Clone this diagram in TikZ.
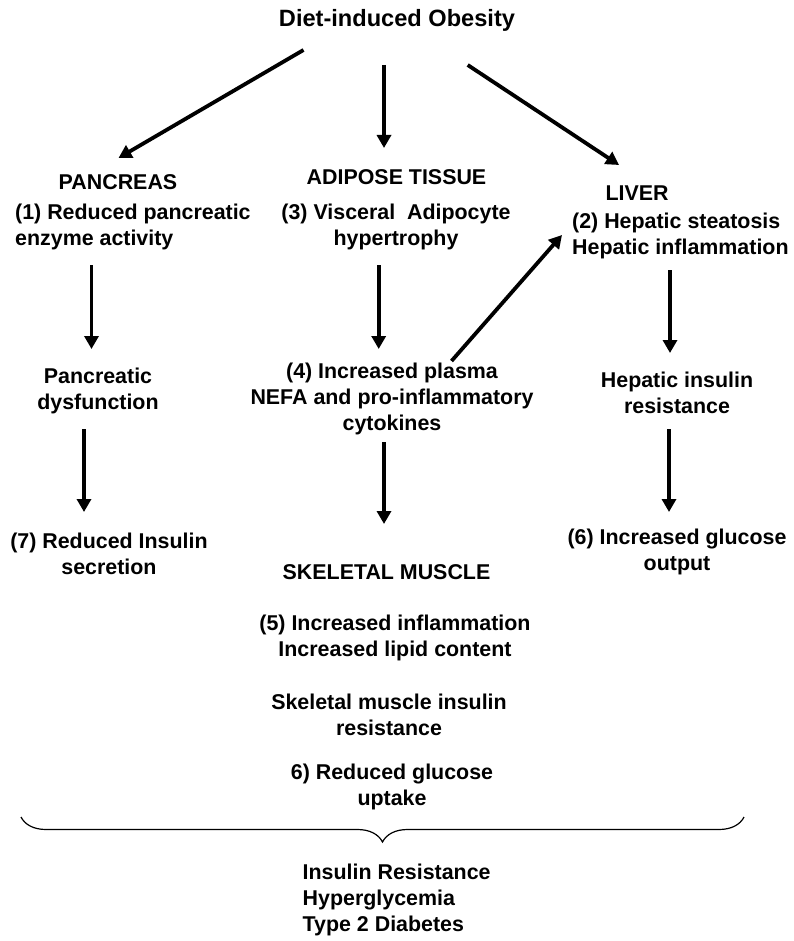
\documentclass[tikz,border=0pt]{standalone}
\usepackage{fontspec}
\setmainfont{Liberation Sans}
\usetikzlibrary{arrows.meta,decorations.pathreplacing}

\begin{document}
\begin{tikzpicture}[x=1pt,y=-1pt,
  lbl/.style={inner sep=0pt,align=center},
  lbll/.style={inner sep=0pt,align=left,anchor=west},
  arr/.style={-{Triangle[length=13pt,width=14pt]},line width=3.8pt}]
\fontsize{21.4}{26}\selectfont\bfseries
\useasboundingbox (0,0) rectangle (793,941);
% top
\node[lbl,font=\fontsize{23.6}{28}\selectfont\bfseries] (obesity) at (397,20) {Diet-induced Obesity};
% organs
\node[lbl] (pancreas) at (118,182) {PANCREAS};
\node[lbll] (pancenz) at (15,227) {(1) Reduced pancreatic\\enzyme activity};
\node[lbl] (adipose) at (396.5,177) {ADIPOSE TISSUE};
\node[lbl] (visceral) at (396,227) {(3) Visceral\ \ Adipocyte\\hypertrophy};
\node[lbl] (liver) at (637,193) {LIVER};
\node[lbll] (hepatic) at (572,235.5) {(2) Hepatic steatosis\\Hepatic inflammation};
% second row
\node[lbl] (pancdys) at (98,390.5) {Pancreatic\\dysfunction};
\node[lbl] (nefa) at (392,399) {(4) Increased plasma\\NEFA and pro-inflammatory\\cytokines};
\node[lbl] (hepres) at (677,393) {Hepatic insulin\\resistance};
% third row
\node[lbl] (secretion) at (109,554) {(7) Reduced Insulin\\secretion};
\node[lbl] (skeletal) at (386.5,572) {SKELETAL MUSCLE};
\node[lbl] (output) at (677,552) {(6) Increased glucose\\output};
% muscle
\node[lbl] (lipid) at (395,637.5) {(5) Increased inflammation\\Increased lipid content};
\node[lbl] (skres) at (389,715) {Skeletal muscle insulin\\resistance};
\node[lbl] (uptake) at (392,787) {6) Reduced glucose\\uptake};
\node[lbll] (diabetes) at (302.5,900) {Insulin Resistance\\Hyperglycemia\\Type 2 Diabetes};
% arrows
\draw[arr] ([shift={(-93.5,30)}]obesity.center) -- ([shift={(0.5,-24)}]pancreas.center);
\draw[arr] ([shift={(-13,45)}]obesity.center) -- ([shift={(-12.5,-29)}]adipose.center);
\draw[arr] ([shift={(70.7,45)}]obesity.center) -- ([shift={(-18,-28)}]liver.center);
\draw[arr] ([shift={(76.5,38)}]pancenz.west) -- ([shift={(-6.5,-41.5)}]pancdys.center);
\draw[arr] ([shift={(-17.3,38)}]visceral.center) -- ([shift={(-13.3,-50)}]nefa.center);
\draw[arr] ([shift={(98,34.5)}]hepatic.west) -- ([shift={(-7,-40)}]hepres.center);
\draw[arr] ([shift={(59.5,-38)}]nefa.center) -- ([shift={(-10,-0.5)}]hepatic.west);
\draw[arr] ([shift={(-14,38.5)}]pancdys.center) -- ([shift={(-25,-42)}]secretion.center);
\draw[arr] ([shift={(-8,43)}]nefa.center) -- ([shift={(-2.5,-48)}]skeletal.center);
\draw[arr] ([shift={(-8,36)}]hepres.center) -- ([shift={(-8,-40)}]output.center);
% brace
\coordinate (bl) at (21,817);
\coordinate (br) at (744,817);
\draw[line width=1.2pt,decorate,decoration={brace,mirror,amplitude=25pt}] (bl) -- (br);
\end{tikzpicture}
\end{document}
